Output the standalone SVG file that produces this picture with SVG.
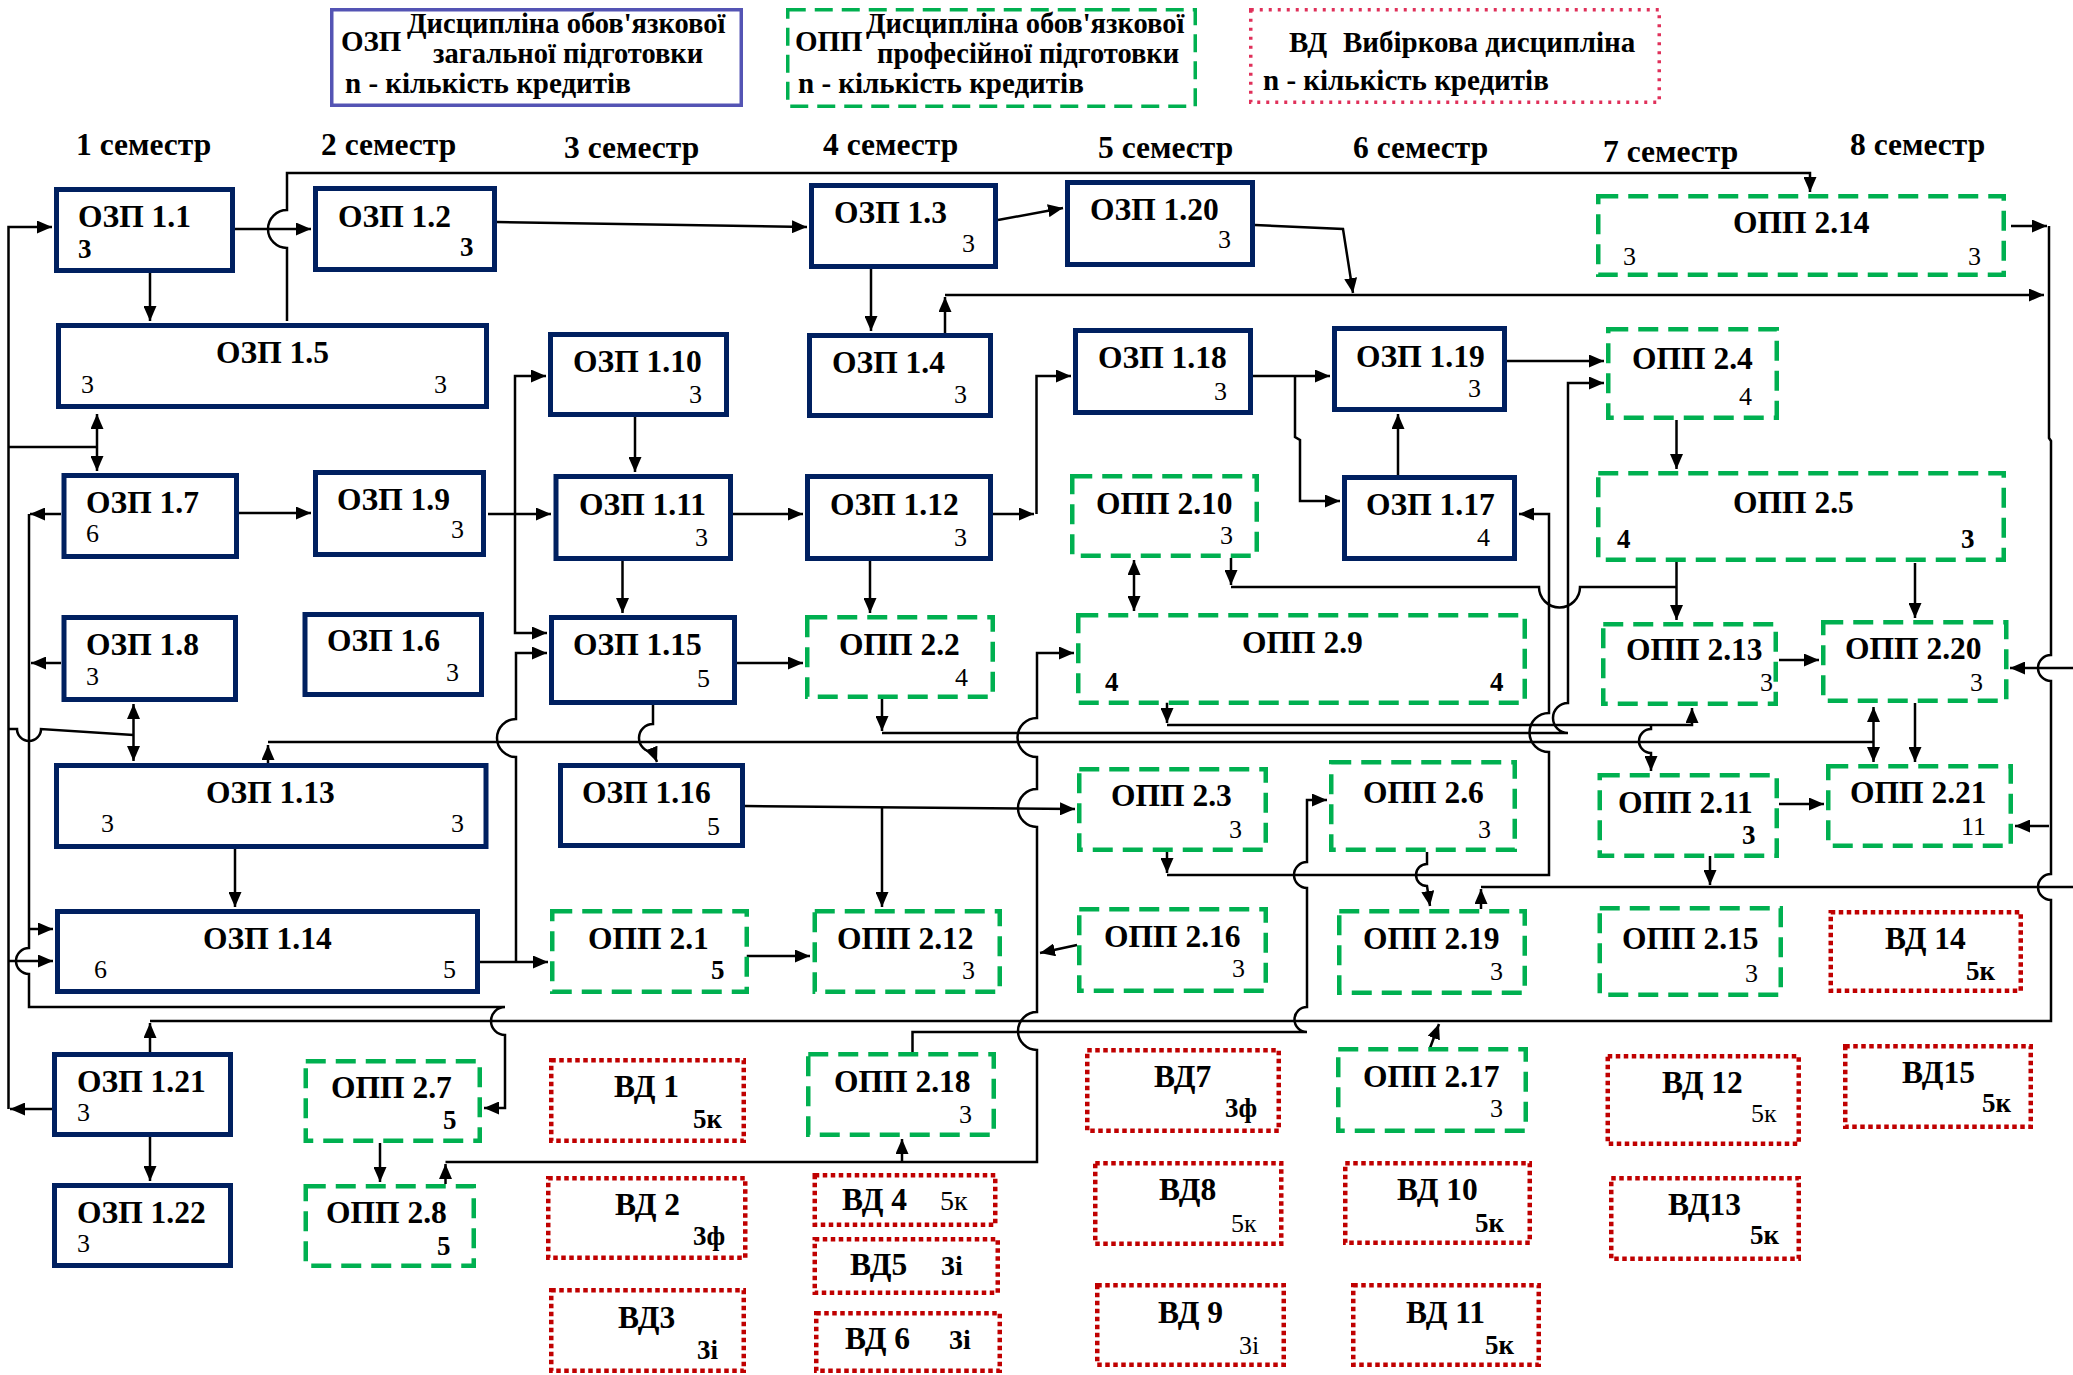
<svg xmlns="http://www.w3.org/2000/svg" width="2073" height="1375" viewBox="0 0 2073 1375">
<style>
.b{fill:#fff;stroke:#002060;stroke-width:5}
.g{fill:#fff;stroke:#00b050;stroke-width:4.5;stroke-dasharray:20 10}
.r{fill:#fff;stroke:#c00000;stroke-width:4.5;stroke-dasharray:4.5 3.5}
text{font-family:"Liberation Serif","Times New Roman",serif;fill:#000}
.t{font-size:31.5px;font-weight:bold}
.n{font-size:26px}
.nb{font-size:27px;font-weight:bold}
.ni{font-size:28px}
.nib{font-size:28px;font-weight:bold}
.s{font-size:31.5px;font-weight:bold}
.lg{font-size:29px;font-weight:bold}
.lt{font-size:28.5px;font-weight:bold}
.lk{font-size:29px;font-weight:bold}
#connectors path{fill:none;stroke:#000;stroke-width:2.5}
.a{marker-end:url(#ah)}
.d{marker-start:url(#ah);marker-end:url(#ah)}
</style>
<defs>
<marker id="ah" viewBox="0 0 15 13" refX="15" refY="6.5" markerWidth="15" markerHeight="13" markerUnits="userSpaceOnUse" orient="auto-start-reverse"><path d="M0,0 L15,6.5 L0,13 z" fill="#000"/></marker>
</defs>
<rect width="2073" height="1375" fill="#fff"/>

<g id="legend-ozp">
<rect x="331.75" y="9.75" width="409.5" height="95.5" fill="#fff" stroke="#5454b4" stroke-width="3.5"/>
<text class="lk" x="341" y="51">ОЗП</text>
<text class="lt" x="407" y="33">Дисципліна обов'язкової</text>
<text class="lt" x="433" y="63">загальної підготовки</text>
<text class="lg" x="345" y="93">n - кількість кредитів</text>
</g>
<g id="legend-opp">
<rect x="787.75" y="9.75" width="407.5" height="96.5" fill="#fff" stroke="#00b050" stroke-width="3.5" stroke-dasharray="18 9"/>
<text class="lk" x="795" y="51">ОПП</text>
<text class="lt" x="866" y="33">Дисципліна обов'язкової</text>
<text class="lt" x="877" y="63">професійної підготовки</text>
<text class="lg" x="798" y="93">n - кількість кредитів</text>
</g>
<g id="legend-vd">
<rect x="1250.75" y="9.75" width="408.5" height="92.5" fill="#fff" stroke="#e0305a" stroke-width="3.5" stroke-dasharray="3 6"/>
<text class="lg" x="1289" y="52">ВД</text>
<text class="lg" x="1343" y="52">Вибіркова дисципліна</text>
<text class="lg" x="1263" y="90">n - кількість кредитів</text>
</g>

<g id="semesters">
<text class="s" x="76" y="155">1 семестр</text>
<text class="s" x="321" y="155">2 семестр</text>
<text class="s" x="564" y="158">3 семестр</text>
<text class="s" x="823" y="155">4 семестр</text>
<text class="s" x="1098" y="158">5 семестр</text>
<text class="s" x="1353" y="158">6 семестр</text>
<text class="s" x="1603" y="162">7 семестр</text>
<text class="s" x="1850" y="155">8 семестр</text>
</g>

<g id="connectors">
<path class="a" d="M235,229 H311"/>
<path class="a" d="M287,321 V248 A19,19 0 0 1 287,210 V173 H1810 V192"/>
<path class="a" d="M150,273 V321"/>
<path class="a" d="M52,1109 H10"/>
<path class="a" d="M8.5,1109 V227 H52"/>
<path d="M8.5,447 H97"/>
<path class="d" d="M97,414 V471"/>
<path d="M8.5,729 H17 A12,12 0 0 0 41,729 L133.5,735"/>
<path class="d" d="M133.5,704 V761"/>
<path class="a" d="M61,514 H30"/>
<path class="a" d="M61,663 H31"/>
<path class="a" d="M29,514 V948 A13,13 0 0 0 29,974 V1007 H505 A14,14 0 0 0 505,1035 V1108 H484"/>
<path class="a" d="M29,929 H53"/>
<path class="a" d="M8.5,961 H53"/>
<path class="a" d="M239,513 H311"/>
<path class="a" d="M488,514 H551"/>
<path class="a" d="M515,514 V376 H546"/>
<path class="a" d="M515,514 V633 H547"/>
<path class="a" d="M635,417 V472"/>
<path class="a" d="M733,514 H803"/>
<path class="a" d="M622.5,561 V613"/>
<path class="a" d="M993,514 H1034"/>
<path class="a" d="M1036.5,514 V376 H1071"/>
<path class="a" d="M870,561 V613"/>
<path class="a" d="M737,663 H803"/>
<path class="a" d="M653,705 V724 A14,14 0 0 0 653,752 L657,762"/>
<path class="a" d="M882,699 V731"/>
<path class="a" d="M882,733 H1568 A15,15 0 0 1 1568,703 V383 H1604"/>
<path class="a" d="M1167,697 V723"/>
<path class="a" d="M1167,725 H1692 V708"/>
<path class="a" d="M1651,725 V729 A12,12 0 0 0 1651,753 V771"/>
<path d="M268,742 H1873.5"/>
<path class="a" d="M268,763 V745"/>
<path class="d" d="M1134,560 V611"/>
<path class="a" d="M1231,558 V585"/>
<path d="M1231,587 H1539 A20.5,20.5 0 0 0 1580,587 H1676.5"/>
<path class="a" d="M1676.5,420 V469"/>
<path class="a" d="M1676.5,562 V620"/>
<path class="a" d="M1915,563 V618"/>
<path class="a" d="M1779,660 H1819"/>
<path class="a" d="M1915,703 V762"/>
<path class="d" d="M1873.5,707 V762"/>
<path class="a" d="M1779,804 H1824"/>
<path class="a" d="M2011,226 H2047"/>
<path d="M2049,226 V438 L2051,441 V655 A13,13 0 0 0 2051,681 V874 A13,13 0 0 0 2051,900 V1021 H150"/>
<path class="a" d="M2049,826 H2015"/>
<path class="a" d="M2073,668 H2010"/>
<path d="M1481,887 H2073"/>
<path class="a" d="M1481,909 V889"/>
<path class="a" d="M1710,856 V885"/>
<path class="a" d="M945,333 V297"/>
<path class="a" d="M945,295 H2044"/>
<path class="a" d="M1255,225 L1343,229 L1353,293"/>
<path class="a" d="M150,1052 V1023"/>
<path class="a" d="M1253,376 H1330"/>
<path class="a" d="M1295,376 V437 L1300,440 V501 H1340"/>
<path class="a" d="M1398,475 V414"/>
<path class="a" d="M1507,361 H1604"/>
<path class="a" d="M1167,852 V873"/>
<path class="a" d="M1167,875 H1549 V752 A19.5,19.5 0 0 1 1549,713 V514 H1519"/>
<path class="a" d="M912.5,1052 V1032 H1307 A12.5,12.5 0 0 1 1307,1007 V888 A13,13 0 0 1 1307,862 V800 H1327"/>
<path class="a" d="M1427,852 V864 A11,11 0 0 0 1427,886 L1430,906"/>
<path class="a" d="M745,806 L1075,809"/>
<path class="a" d="M882,808 V907"/>
<path class="a" d="M445.5,1184 V1164"/>
<path class="a" d="M445.5,1162 H1037 V1050 A19,19 0 0 1 1037,1012 V827 A19,19 0 0 1 1037,789 V757 A19.5,19.5 0 0 1 1037,718 V653 H1074"/>
<path class="a" d="M902,1162 V1139"/>
<path class="a" d="M1077,945 L1040,953"/>
<path class="a" d="M480,962 H548"/>
<path class="a" d="M516,962 V757 A19,19 0 0 1 516,719 V653 H547"/>
<path class="a" d="M746,956 H810"/>
<path class="a" d="M380,1143 V1182"/>
<path class="a" d="M150,1137 V1181"/>
<path class="a" d="M1430,1048 L1439,1024"/>
<path class="a" d="M871,269 V331"/>
<path class="a" d="M497,222 L807,227"/>
<path class="a" d="M998,220 L1063,208"/>
<path class="a" d="M235,849 V907"/>
</g>

<g id="ozp-1-1"><rect class="b" x="56.5" y="189.5" width="176" height="81"/><text class="t" x="78" y="227">ОЗП 1.1</text><text class="nb" x="78" y="258">3</text></g>
<g id="ozp-1-2"><rect class="b" x="315.5" y="188.5" width="179" height="81"/><text class="t" x="338" y="227">ОЗП 1.2</text><text class="nb" x="460" y="256">3</text></g>
<g id="ozp-1-5"><rect class="b" x="58.5" y="325.5" width="428" height="81"/><text class="t" x="216" y="363">ОЗП 1.5</text><text class="n" x="81" y="393">3</text><text class="n" x="434" y="393">3</text></g>
<g id="ozp-1-3"><rect class="b" x="811.5" y="185.5" width="184" height="81"/><text class="t" x="834" y="223">ОЗП 1.3</text><text class="n" x="962" y="252">3</text></g>
<g id="ozp-1-20"><rect class="b" x="1067.5" y="182.5" width="185" height="82"/><text class="t" x="1090" y="220">ОЗП 1.20</text><text class="n" x="1218" y="248">3</text></g>
<g id="ozp-1-4"><rect class="b" x="809.5" y="335.5" width="181" height="80"/><text class="t" x="832" y="373">ОЗП 1.4</text><text class="n" x="954" y="403">3</text></g>
<g id="ozp-1-10"><rect class="b" x="550.5" y="334.5" width="176" height="80"/><text class="t" x="573" y="372">ОЗП 1.10</text><text class="n" x="689" y="403">3</text></g>
<g id="ozp-1-18"><rect class="b" x="1075.5" y="330.5" width="175" height="82"/><text class="t" x="1098" y="368">ОЗП 1.18</text><text class="n" x="1214" y="400">3</text></g>
<g id="ozp-1-19"><rect class="b" x="1334.5" y="328.5" width="170" height="81"/><text class="t" x="1356" y="367">ОЗП 1.19</text><text class="n" x="1468" y="397">3</text></g>
<g id="ozp-1-7"><rect class="b" x="64" y="475.5" width="172.5" height="81"/><text class="t" x="86" y="513">ОЗП 1.7</text><text class="n" x="86" y="542">6</text></g>
<g id="ozp-1-9"><rect class="b" x="315.5" y="472.5" width="168" height="82"/><text class="t" x="337" y="510">ОЗП 1.9</text><text class="n" x="451" y="538">3</text></g>
<g id="ozp-1-11"><rect class="b" x="556" y="476.5" width="174.5" height="82"/><text class="t" x="579" y="515">ОЗП 1.11</text><text class="n" x="695" y="546">3</text></g>
<g id="ozp-1-12"><rect class="b" x="807.5" y="476.5" width="183" height="82"/><text class="t" x="830" y="515">ОЗП 1.12</text><text class="n" x="954" y="546">3</text></g>
<g id="ozp-1-17"><rect class="b" x="1344.5" y="477.5" width="170" height="81"/><text class="t" x="1366" y="515">ОЗП 1.17</text><text class="n" x="1477" y="546">4</text></g>
<g id="ozp-1-8"><rect class="b" x="64" y="617.5" width="171.5" height="82"/><text class="t" x="86" y="655">ОЗП 1.8</text><text class="n" x="86" y="685">3</text></g>
<g id="ozp-1-6"><rect class="b" x="305" y="614.5" width="176.5" height="80"/><text class="t" x="327" y="651">ОЗП 1.6</text><text class="n" x="446" y="681">3</text></g>
<g id="ozp-1-15"><rect class="b" x="551.5" y="617.5" width="183" height="85"/><text class="t" x="573" y="655">ОЗП 1.15</text><text class="n" x="697" y="687">5</text></g>
<g id="ozp-1-13"><rect class="b" x="56.5" y="765.5" width="429.5" height="81"/><text class="t" x="206" y="803">ОЗП 1.13</text><text class="n" x="101" y="832">3</text><text class="n" x="451" y="832">3</text></g>
<g id="ozp-1-16"><rect class="b" x="560.5" y="765.5" width="182" height="80"/><text class="t" x="582" y="803">ОЗП 1.16</text><text class="n" x="707" y="835">5</text></g>
<g id="ozp-1-14"><rect class="b" x="57.5" y="911.5" width="420" height="80"/><text class="t" x="203" y="949">ОЗП 1.14</text><text class="n" x="94" y="978">6</text><text class="n" x="443" y="978">5</text></g>
<g id="ozp-1-21"><rect class="b" x="54.5" y="1054.5" width="176" height="80"/><text class="t" x="77" y="1092">ОЗП 1.21</text><text class="n" x="77" y="1121">3</text></g>
<g id="ozp-1-22"><rect class="b" x="54.5" y="1185.5" width="176" height="80"/><text class="t" x="77" y="1223">ОЗП 1.22</text><text class="n" x="77" y="1252">3</text></g>

<g id="opp-2-14"><rect class="g" x="1598.25" y="196.25" width="405.5" height="78.5"/><text class="t" x="1733" y="233">ОПП 2.14</text><text class="n" x="1623" y="265">3</text><text class="n" x="1968" y="265">3</text></g>
<g id="opp-2-4"><rect class="g" x="1608.25" y="329.25" width="168.5" height="88.5"/><text class="t" x="1632" y="369">ОПП 2.4</text><text class="n" x="1739" y="405">4</text></g>
<g id="opp-2-5"><rect class="g" x="1598.25" y="473.25" width="405.5" height="86.5"/><text class="t" x="1733" y="513">ОПП 2.5</text><text class="nb" x="1617" y="548">4</text><text class="nb" x="1961" y="548">3</text></g>
<g id="opp-2-10"><rect class="g" x="1072.25" y="476.25" width="184.5" height="79.5"/><text class="t" x="1096" y="514">ОПП 2.10</text><text class="n" x="1220" y="544">3</text></g>
<g id="opp-2-9"><rect class="g" x="1078.25" y="615.25" width="446.5" height="87.5"/><text class="t" x="1242" y="653">ОПП 2.9</text><text class="nb" x="1105" y="691">4</text><text class="nb" x="1490" y="691">4</text></g>
<g id="opp-2-2"><rect class="g" x="807.25" y="617.25" width="185.5" height="79.5"/><text class="t" x="839" y="655">ОПП 2.2</text><text class="n" x="955" y="686">4</text></g>
<g id="opp-2-13"><rect class="g" x="1603.25" y="624.25" width="172.5" height="79.5"/><text class="t" x="1626" y="660">ОПП 2.13</text><text class="n" x="1760" y="691">3</text></g>
<g id="opp-2-20"><rect class="g" x="1823.25" y="622.25" width="183" height="78.5"/><text class="t" x="1845" y="659">ОПП 2.20</text><text class="n" x="1970" y="691">3</text></g>
<g id="opp-2-3"><rect class="g" x="1079.25" y="769.25" width="186.5" height="80.5"/><text class="t" x="1111" y="806">ОПП 2.3</text><text class="n" x="1229" y="838">3</text></g>
<g id="opp-2-6"><rect class="g" x="1331.25" y="762.25" width="183.5" height="87.5"/><text class="t" x="1363" y="803">ОПП 2.6</text><text class="n" x="1478" y="838">3</text></g>
<g id="opp-2-11"><rect class="g" x="1599.75" y="775.25" width="177" height="80.5"/><text class="t" x="1618" y="813">ОПП 2.11</text><text class="nb" x="1742" y="844">3</text></g>
<g id="opp-2-21"><rect class="g" x="1828.25" y="766.25" width="182.5" height="79.5"/><text class="t" x="1850" y="803">ОПП 2.21</text><text class="n" x="1961" y="835">11</text></g>
<g id="opp-2-1"><rect class="g" x="552.25" y="911.25" width="194.5" height="80.5"/><text class="t" x="588" y="949">ОПП 2.1</text><text class="nb" x="711" y="979">5</text></g>
<g id="opp-2-12"><rect class="g" x="814.75" y="911.25" width="185" height="80.5"/><text class="t" x="837" y="949">ОПП 2.12</text><text class="n" x="962" y="979">3</text></g>
<g id="opp-2-16"><rect class="g" x="1079.25" y="909.25" width="186.5" height="81.5"/><text class="t" x="1104" y="947">ОПП 2.16</text><text class="n" x="1232" y="977">3</text></g>
<g id="opp-2-19"><rect class="g" x="1339.25" y="911.25" width="185.5" height="81.5"/><text class="t" x="1363" y="949">ОПП 2.19</text><text class="n" x="1490" y="980">3</text></g>
<g id="opp-2-15"><rect class="g" x="1599.75" y="908.25" width="181" height="86.5"/><text class="t" x="1622" y="949">ОПП 2.15</text><text class="n" x="1745" y="982">3</text></g>
<g id="opp-2-7"><rect class="g" x="305.75" y="1061.25" width="174" height="79.5"/><text class="t" x="331" y="1098">ОПП 2.7</text><text class="nb" x="443" y="1129">5</text></g>
<g id="opp-2-8"><rect class="g" x="305.75" y="1186.25" width="168" height="79.5"/><text class="t" x="326" y="1223">ОПП 2.8</text><text class="nb" x="437" y="1255">5</text></g>
<g id="opp-2-18"><rect class="g" x="808.25" y="1054.25" width="185.5" height="80.5"/><text class="t" x="834" y="1092">ОПП 2.18</text><text class="n" x="959" y="1123">3</text></g>
<g id="opp-2-17"><rect class="g" x="1338.25" y="1049.25" width="187.5" height="81.5"/><text class="t" x="1363" y="1087">ОПП 2.17</text><text class="n" x="1490" y="1117">3</text></g>

<g id="vd-14"><rect class="r" x="1830.75" y="912.25" width="190" height="78.5"/><text class="t" x="1885" y="949">ВД 14</text><text class="nb" x="1966" y="980">5к</text></g>
<g id="vd-1"><rect class="r" x="551.25" y="1060.25" width="192.5" height="80.5"/><text class="t" x="614" y="1097">ВД 1</text><text class="nb" x="693" y="1128">5к</text></g>
<g id="vd-2"><rect class="r" x="548.25" y="1178.25" width="197" height="79.5"/><text class="t" x="615" y="1215">ВД 2</text><text class="nb" x="693" y="1245">3ф</text></g>
<g id="vd-3"><rect class="r" x="551.25" y="1290.25" width="192.5" height="80.5"/><text class="t" x="618" y="1328">ВД3</text><text class="nb" x="697" y="1359">3і</text></g>
<g id="vd-4"><rect class="r" x="814.75" y="1175.25" width="180.5" height="49.5"/><text class="t" x="842" y="1210">ВД 4</text><text class="ni" x="940" y="1210">5к</text></g>
<g id="vd-5"><rect class="r" x="814.75" y="1239.25" width="183" height="53.5"/><text class="t" x="850" y="1275">ВД5</text><text class="nib" x="941" y="1275">3і</text></g>
<g id="vd-6"><rect class="r" x="816.25" y="1313.25" width="183.5" height="57.5"/><text class="t" x="845" y="1349">ВД 6</text><text class="nib" x="949" y="1349">3і</text></g>
<g id="vd-7"><rect class="r" x="1087.25" y="1050.25" width="191.5" height="80.5"/><text class="t" x="1154" y="1087">ВД7</text><text class="nb" x="1225" y="1117">3ф</text></g>
<g id="vd-8"><rect class="r" x="1095.25" y="1163.25" width="186" height="80.5"/><text class="t" x="1159" y="1200">ВД8</text><text class="n" x="1231" y="1232">5к</text></g>
<g id="vd-9"><rect class="r" x="1097.25" y="1285.25" width="186.5" height="79.5"/><text class="t" x="1158" y="1323">ВД 9</text><text class="n" x="1239" y="1354">3і</text></g>
<g id="vd-10"><rect class="r" x="1345.25" y="1163.25" width="184.5" height="79.5"/><text class="t" x="1397" y="1200">ВД 10</text><text class="nb" x="1475" y="1232">5к</text></g>
<g id="vd-11"><rect class="r" x="1353.25" y="1285.25" width="185.5" height="79.5"/><text class="t" x="1406" y="1323">ВД 11</text><text class="nb" x="1485" y="1354">5к</text></g>
<g id="vd-12"><rect class="r" x="1607.75" y="1056.25" width="191" height="87.5"/><text class="t" x="1662" y="1093">ВД 12</text><text class="n" x="1751" y="1122">5к</text></g>
<g id="vd-13"><rect class="r" x="1611.25" y="1178.25" width="187.5" height="80.5"/><text class="t" x="1668" y="1215">ВД13</text><text class="nb" x="1750" y="1244">5к</text></g>
<g id="vd-15"><rect class="r" x="1845.25" y="1046.25" width="185.5" height="80.5"/><text class="t" x="1902" y="1083">ВД15</text><text class="nb" x="1982" y="1112">5к</text></g>
</svg>
